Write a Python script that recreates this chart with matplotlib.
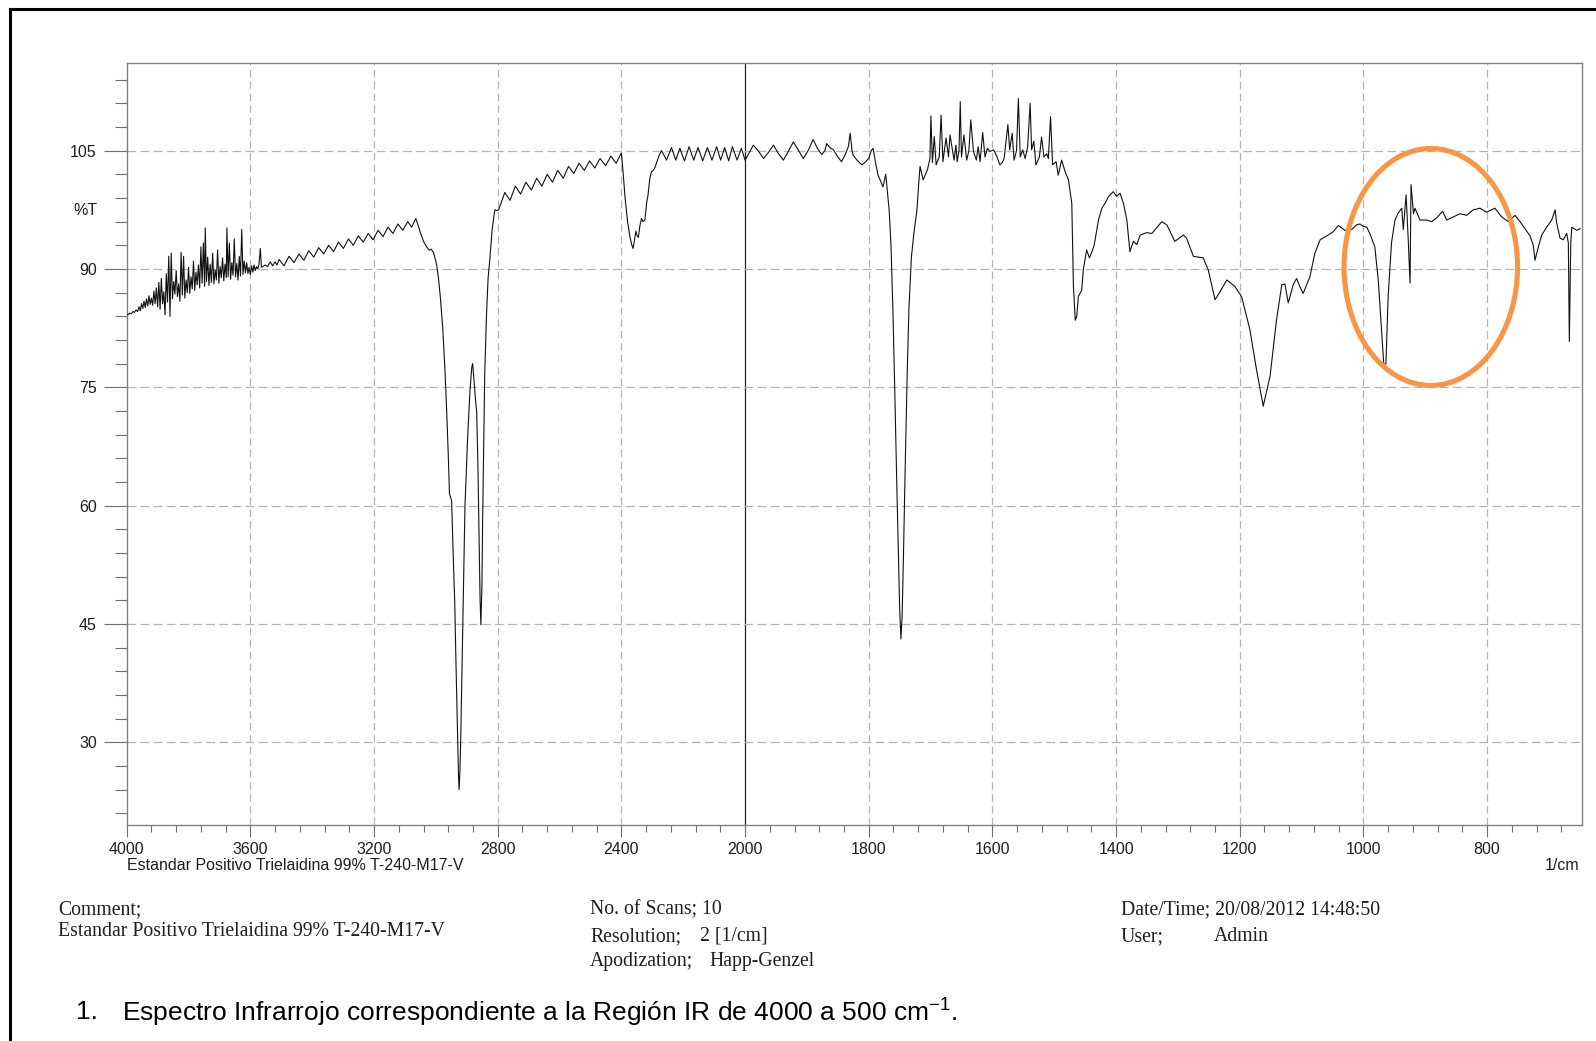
import numpy as np
import matplotlib
matplotlib.use("Agg")
import matplotlib.pyplot as plt
from matplotlib.patches import Ellipse
from matplotlib.lines import Line2D

# ---------------- data ----------------
wavenumber = [
    4000, 3996, 3990, 3985, 3980, 3975, 3970, 3965, 3960, 3956, 3952, 3948, 3944, 3940, 3936, 3932,
    3928, 3924, 3920, 3916, 3912, 3908, 3904, 3900, 3896, 3892, 3888, 3884, 3880, 3876, 3872, 3868,
    3864, 3860, 3856, 3852, 3848, 3844, 3840, 3836, 3832, 3828, 3824, 3820, 3816, 3812, 3808, 3804,
    3800, 3796, 3792, 3788, 3784, 3780, 3776, 3772, 3768, 3764, 3760, 3756, 3752, 3748, 3746, 3742,
    3738, 3734, 3730, 3726, 3722, 3718, 3714, 3710, 3706, 3702, 3698, 3694, 3690, 3686, 3682, 3678,
    3676, 3672, 3668, 3664, 3660, 3656, 3652, 3648, 3644, 3640, 3636, 3632, 3628, 3624, 3620, 3616,
    3612, 3608, 3604, 3600, 3596, 3592, 3588, 3584, 3580, 3576, 3572, 3568, 3564, 3560,
    3552, 3544, 3536, 3528, 3520, 3514, 3507, 3491, 3475, 3459, 3443, 3427, 3411, 3395, 3379, 3363,
    3347, 3331, 3315, 3299, 3283, 3267, 3251, 3235, 3219, 3203, 3187, 3171, 3155, 3139, 3123, 3107,
    3091, 3078, 3065,
    3058, 3050, 3040, 3030, 3022, 3015, 3008, 3003, 2997, 2991, 2985, 2978, 2971, 2965, 2960, 2956,
    2952, 2949, 2945, 2939, 2935, 2931, 2927, 2925, 2922, 2919.5, 2913, 2906, 2898, 2890, 2884, 2881,
    2876, 2872, 2868, 2864, 2861, 2857, 2854.5, 2851, 2849, 2845, 2842, 2836, 2831, 2825, 2818, 2812,
    2809, 2803, 2797,
    2777, 2760, 2743, 2726, 2709, 2691, 2674, 2657, 2640, 2623, 2606, 2588, 2571, 2554, 2537, 2520,
    2503, 2486, 2469, 2451, 2434, 2417, 2400,
    2395, 2388, 2380, 2372, 2366, 2362, 2357, 2353, 2349, 2345, 2340, 2335, 2330, 2324, 2318, 2314,
    2308, 2303, 2297, 2292, 2285, 2278, 2270,
    2254, 2238, 2224, 2211, 2196, 2181, 2166, 2152, 2137, 2122, 2107, 2092, 2079, 2066, 2053, 2041,
    2026, 2012, 2000,
    1993, 1986.5, 1978, 1970, 1962, 1954, 1946, 1938, 1930, 1922, 1914, 1906, 1898, 1890, 1883, 1876,
    1871, 1868, 1863, 1857, 1850, 1844, 1838, 1833, 1830, 1827, 1825, 1818, 1811, 1805, 1800, 1796,
    1793, 1789, 1785, 1780, 1777, 1772.5, 1770, 1767,
    1764, 1761, 1758, 1755, 1752, 1750, 1748, 1746, 1744, 1741, 1738, 1735, 1731, 1727, 1722, 1719,
    1717, 1712, 1705, 1701, 1699.5, 1697, 1694, 1691, 1686, 1683, 1680, 1675, 1671, 1668.6, 1662, 1659,
    1657, 1654, 1652, 1650, 1646, 1641.6, 1638, 1635, 1630.6, 1626, 1623, 1620, 1615.7, 1612, 1608, 1604,
    1598, 1593, 1588, 1584, 1581, 1575, 1572, 1568, 1565, 1561, 1558, 1555, 1551, 1547, 1543, 1539,
    1536.6, 1533, 1529.6, 1524, 1520.5, 1516.6, 1512, 1509.5, 1506, 1502.6, 1497, 1493.5, 1488, 1482.7,
    1477, 1471.6, 1469, 1466, 1463.6, 1461, 1455.6, 1453, 1447.6, 1443, 1438, 1435.4, 1428.5, 1423,
    1418, 1412, 1404.6, 1399, 1393.6, 1388, 1382.6, 1377.6, 1372, 1366.5, 1361, 1350.6, 1342, 1326,
    1318, 1305, 1291, 1286, 1275, 1259, 1251, 1240, 1232, 1221, 1208, 1197, 1183.6, 1172.8, 1162, 1151,
    1140.6, 1132, 1127, 1121.6, 1113.5, 1108, 1103, 1097.5, 1086.6, 1078.5, 1070, 1057, 1049, 1040.7,
    1030, 1019, 1011, 1005.5, 1000.5, 994.6, 989.7, 981.6, 976, 970.7, 967, 963.6, 960, 954.6, 949,
    943.7, 938, 935.5, 931, 927.4, 924.6, 923, 919, 916.6, 908.5, 897.7, 889.6, 881.5, 871.8, 865.4,
    854.6, 843.8, 833, 822.3, 811.5, 800.7, 787.3, 776.5, 765.7, 754.9, 746.8, 741.4, 736, 730.6, 725.3,
    722.5, 718.8, 711.7, 703.6, 695.5, 690, 687.4, 682, 676.7, 671.3, 668.6, 667, 664.7, 663, 655, 649.6,
]

transmittance = [
    84.2, 84.2, 84.4, 84.3, 84.6, 84.5, 84.8, 84.6, 85.2, 84.7, 85.6, 85.0, 85.9, 85.1, 86.2, 85.3,
    86.6, 85.5, 86.3, 85.4, 87.2, 85.6, 87.6, 85.2, 88.3, 84.9, 88.8, 85.6, 87.1, 84.2, 89.4, 85.8,
    91.6, 84.0, 92.0, 86.2, 88.4, 86.8, 89.8, 86.5, 88.1, 85.9, 92.1, 86.7, 91.6, 86.3, 88.6, 87.0,
    90.2, 86.9, 89.0, 87.5, 91.0, 87.3, 89.6, 88.0, 90.5, 87.6, 92.8, 88.2, 93.3, 87.8, 95.2, 88.4,
    91.5, 87.9, 90.6, 88.3, 92.0, 88.1, 89.9, 88.6, 92.4, 88.2, 90.3, 88.9, 91.4, 88.5, 90.6, 88.9,
    95.2, 89.0, 93.3, 88.7, 90.8, 89.2, 93.8, 89.0, 90.7, 88.6, 91.6, 89.1, 95.0, 89.3, 91.0, 89.5,
    90.8, 89.4, 90.2, 89.3, 90.4, 89.6, 90.5, 89.8, 90.3, 90.0, 90.6, 92.6, 90.2, 90.3,
    90.5, 90.3, 90.9, 90.4, 90.9, 90.5, 91.2, 90.4, 91.6, 90.8, 91.9, 91.1, 92.3, 91.5, 92.7, 91.9,
    93.0, 92.2, 93.4, 92.6, 93.8, 93.0, 94.2, 93.4, 94.5, 93.7, 94.9, 94.1, 95.3, 94.5, 95.7, 94.9,
    96.0, 95.3, 96.4,
    95.6, 94.6, 93.5, 92.8, 92.4, 92.5, 92.1, 91.4, 90.4, 88.6, 86.2, 82.6, 77.5, 71.9, 66.5, 61.5,
    61.0, 60.6, 55.0, 47.7, 40.0, 33.1, 26.0, 24.0, 26.5, 30.7, 45.0, 59.8, 68.0, 74.4, 77.5, 78.0,
    75.5, 73.5, 71.9, 65.0, 57.4, 48.0, 44.9, 50.0, 57.4, 68.0, 76.8, 84.5, 88.9, 91.5, 95.0, 96.8,
    97.5, 97.4, 97.5,
    99.7, 98.7, 100.5, 99.5, 101.0, 100.0, 101.5, 100.5, 102.0, 101.0, 102.5, 101.5, 103.0, 102.1, 103.4, 102.5,
    103.7, 102.8, 104.0, 103.1, 104.3, 103.4, 104.7,
    102.5, 99.0, 96.0, 94.0, 93.0, 92.6, 93.8, 94.8, 94.2, 94.0, 95.5, 96.4, 96.0, 96.2, 98.5, 99.3,
    101.5, 102.3, 102.5, 102.8, 103.6, 104.4, 105.0,
    103.8, 105.4, 103.8, 105.3, 103.7, 105.5, 103.8, 105.4, 103.7, 105.4, 103.8, 105.5, 103.8, 105.4, 103.7, 105.5,
    103.8, 105.3, 103.8,
    104.8, 105.7, 104.9, 104.0, 104.8, 105.7, 104.6, 103.8, 104.9, 106.1, 105.1, 104.0, 105.0, 106.4, 105.3, 104.5,
    105.0, 105.9, 105.4, 105.1, 104.2, 103.6, 104.5, 105.5, 107.2, 105.0, 104.4, 103.7, 103.2, 103.6, 104.0, 105.0,
    105.3, 103.5, 101.9, 101.0, 100.4, 102.0, 100.0, 97.5,
    93.0, 85.0, 75.0, 64.0, 54.0, 47.0, 43.1, 46.0, 53.0, 65.0, 76.0, 85.0, 91.5, 94.5, 97.5, 101.0,
    103.0, 101.3, 102.6, 104.0, 109.4, 103.5, 106.8, 103.2, 104.2, 109.5, 103.6, 106.6, 104.2, 107.0, 103.8, 105.7,
    103.6, 105.0, 111.2, 104.2, 107.0, 103.8, 105.0, 108.9, 104.9, 103.8, 105.5, 103.6, 107.3, 104.2, 105.3, 104.9,
    105.1, 104.3, 103.2, 103.5, 104.0, 108.3, 105.1, 107.2, 103.8, 105.0, 111.6, 104.2, 105.1, 104.0, 105.5, 111.0,
    105.1, 106.2, 103.2, 104.2, 106.7, 104.2, 104.6, 104.0, 109.3, 103.2, 103.6, 101.9, 103.8, 102.4,
    101.3, 98.3, 87.8, 83.5, 84.0, 86.5, 87.3, 89.9, 92.4, 91.4, 92.4, 93.0, 96.2, 97.7,
    98.3, 99.2, 99.8, 99.2, 99.6, 98.3, 96.2, 92.2, 93.5, 93.1, 94.3, 94.6, 94.5, 96.0,
    95.6, 93.5, 94.3, 93.9, 91.6, 91.4, 89.9, 86.1, 87.1, 88.6, 87.8, 86.5, 82.3, 77.2, 72.6, 76.4,
    83.5, 88.0, 88.1, 85.7, 88.0, 88.8, 87.8, 86.9, 89.0, 92.0, 93.7, 94.3, 94.7, 95.5,
    94.9, 95.0, 95.6, 95.7, 95.4, 95.3, 94.5, 92.8, 88.6, 82.3, 77.8, 78.0, 86.5, 93.3, 96.2,
    97.1, 97.7, 95.0, 99.4, 93.5, 88.2, 100.7, 97.0, 97.7, 96.2, 96.2, 96.0, 96.5, 97.3, 96.2,
    96.6, 97.0, 96.8, 97.5, 97.7, 97.2, 97.7, 96.6, 96.0, 96.8, 96.0, 95.4, 94.8, 94.2, 93.0,
    91.1, 92.3, 94.3, 95.3, 96.2, 97.5, 95.8, 93.9, 93.7, 94.5, 93.3, 80.8, 93.3, 95.3, 94.9, 95.1,
]

x_major = [4000, 3600, 3200, 2800, 2400, 2000, 1800, 1600, 1400, 1200, 1000, 800]
x_minor_high = [3920, 3840, 3760, 3680, 3520, 3440, 3360, 3280, 3120, 3040, 2960, 2880,
                2720, 2640, 2560, 2480, 2320, 2240, 2160, 2080]
x_minor_low = [1960, 1920, 1880, 1840, 1760, 1720, 1680, 1640, 1560, 1520, 1480, 1440,
               1360, 1320, 1280, 1240, 1160, 1120, 1080, 1040, 960, 920, 880, 840,
               760, 720, 680]
y_major = [105, 90, 75, 60, 45, 30]
y_minor = [21, 24, 27, 33, 36, 39, 42, 48, 51, 54, 57, 63, 66, 69, 72, 78, 81, 84, 87,
           93, 96, 99, 102, 108, 111, 114]

# ---------------- figure ----------------
W, H = 1596, 1041
fig = plt.figure(figsize=(W / 100, H / 100), dpi=100)
fig.patch.set_facecolor("white")

def fx(px):
    return px / W

def fy(py):
    return 1 - py / H

L, R, T, B = 126.7, 1581.7, 62.7, 825.0
ax = fig.add_axes([fx(L), fy(B), (R - L) / W, (B - T) / H])

def fwd(w):
    w = np.asarray(w, dtype=float)
    return np.where(w >= 2000, w, 2 * w - 2000)

def inv(u):
    u = np.asarray(u, dtype=float)
    return np.where(u >= 2000, u, (u + 2000) / 2)

ax.set_xscale("function", functions=(fwd, inv))
ax.set_xlim(4000, 647)
ax.set_ylim(19.5, 116.15)

sans = "Liberation Sans"
serif = "Liberation Serif"
grid_c = "#b4b4b4"
spine_c = "#808080"
tick_c = "#707070"
txt_c = "#1e1e1e"
fs_ax = 11.5

# grid
for g in x_major:
    if g in (4000,):
        continue
    if g == 2000:
        ax.axvline(g, color="#202020", lw=0.9, zorder=1)
    else:
        ax.axvline(g, color=grid_c, lw=0.9, dashes=(6, 3.5), zorder=1)
for g in y_major:
    ax.axhline(g, color=grid_c, lw=0.9, dashes=(7, 3.5), zorder=1)

ax.plot(wavenumber, transmittance, color="#111111", lw=0.8, zorder=3)

for s in ax.spines.values():
    s.set_color(spine_c)
    s.set_linewidth(1.0)

ax.set_xticks(x_major)
ax.set_xticklabels([str(v) for v in x_major], fontfamily=sans, fontsize=fs_ax, color=txt_c)
ax.set_xticks(x_minor_high + x_minor_low, minor=True)
ax.set_yticks(y_major)
ax.set_yticklabels([str(v) for v in y_major], fontfamily=sans, fontsize=fs_ax, color=txt_c)
ax.set_yticks(y_minor, minor=True)
ax.tick_params(axis="y", which="major", direction="out", length=16.5, width=0.8, color=tick_c, pad=5)
ax.tick_params(axis="y", which="minor", direction="out", length=8.6, width=0.8, color=tick_c)
ax.tick_params(axis="x", which="major", direction="out", length=8.6, width=0.8, color=tick_c, pad=4)
ax.tick_params(axis="x", which="minor", direction="out", length=5.0, width=0.8, color=tick_c)

# %T label
fig.text(fx(98), fy(210.7), "%T", ha="right", va="center", fontfamily=sans, fontsize=fs_ax, color=txt_c)

# subtitle under axis
fig.text(fx(126.7), fy(865), "Estandar Positivo Trielaidina 99% T-240-M17-V", ha="left", va="center",
         fontfamily=sans, fontsize=fs_ax, color=txt_c)
fig.text(fx(1579), fy(866), "1/cm", ha="right", va="center", fontfamily=sans, fontsize=fs_ax, color=txt_c)

# info blocks (serif)
fs_info = 14.2
fig.text(fx(58), fy(910), "Comment;", ha="left", va="center", fontfamily=serif, fontsize=fs_info, color=txt_c)
fig.text(fx(58), fy(932), "Estandar Positivo Trielaidina 99% T-240-M17-V", ha="left", va="center",
         fontfamily=serif, fontsize=fs_info, color=txt_c)
fig.text(fx(590), fy(910), "No. of Scans; 10", ha="left", va="center", fontfamily=serif, fontsize=fs_info, color=txt_c)
fig.text(fx(590), fy(936.5), "Resolution;", ha="left", va="center", fontfamily=serif, fontsize=fs_info, color=txt_c)
fig.text(fx(700), fy(936.5), "2 [1/cm]", ha="left", va="center", fontfamily=serif, fontsize=fs_info, color=txt_c)
fig.text(fx(590), fy(961.5), "Apodization;", ha="left", va="center", fontfamily=serif, fontsize=fs_info, color=txt_c)
fig.text(fx(709), fy(961.5), "Happ-Genzel", ha="left", va="center", fontfamily=serif, fontsize=fs_info, color=txt_c)
fig.text(fx(1121), fy(910), "Date/Time; 20/08/2012 14:48:50", ha="left", va="center", fontfamily=serif,
         fontsize=fs_info, color=txt_c)
fig.text(fx(1121), fy(936.5), "User;", ha="left", va="center", fontfamily=serif, fontsize=fs_info, color=txt_c)
fig.text(fx(1214), fy(936.5), "Admin", ha="left", va="center", fontfamily=serif, fontsize=fs_info, color=txt_c)

# caption
plt.rcParams["mathtext.fontset"] = "custom"
plt.rcParams["mathtext.rm"] = sans
fs_cap = 19
fig.text(fx(76), fy(1012), "1.", ha="left", va="center", fontfamily=sans, fontsize=fs_cap, color="black")
fig.text(fx(122), fy(1012),
         "Espectro Infrarrojo correspondiente a la Región IR de 4000 a 500 cm$^{\\mathregular{-1}}$.",
         ha="left", va="center", fontfamily=sans, fontsize=fs_cap, color="black")

# page border (top and left)
fig.add_artist(Line2D([fx(10), fx(W + 5)], [fy(8.5), fy(8.5)], color="black", lw=2.2,
                      transform=fig.transFigure))
fig.add_artist(Line2D([fx(10), fx(10)], [fy(8.5), fy(H + 5)], color="black", lw=2.2,
                      transform=fig.transFigure))

# orange highlight ellipse
fig.add_artist(Ellipse((fx(1430.8), fy(267)), width=173.5 / W, height=237 / H, fill=False,
                       edgecolor="#F79646", lw=3.7, transform=fig.transFigure, zorder=10))

fig.savefig("out.png", dpi=100, facecolor="white")
